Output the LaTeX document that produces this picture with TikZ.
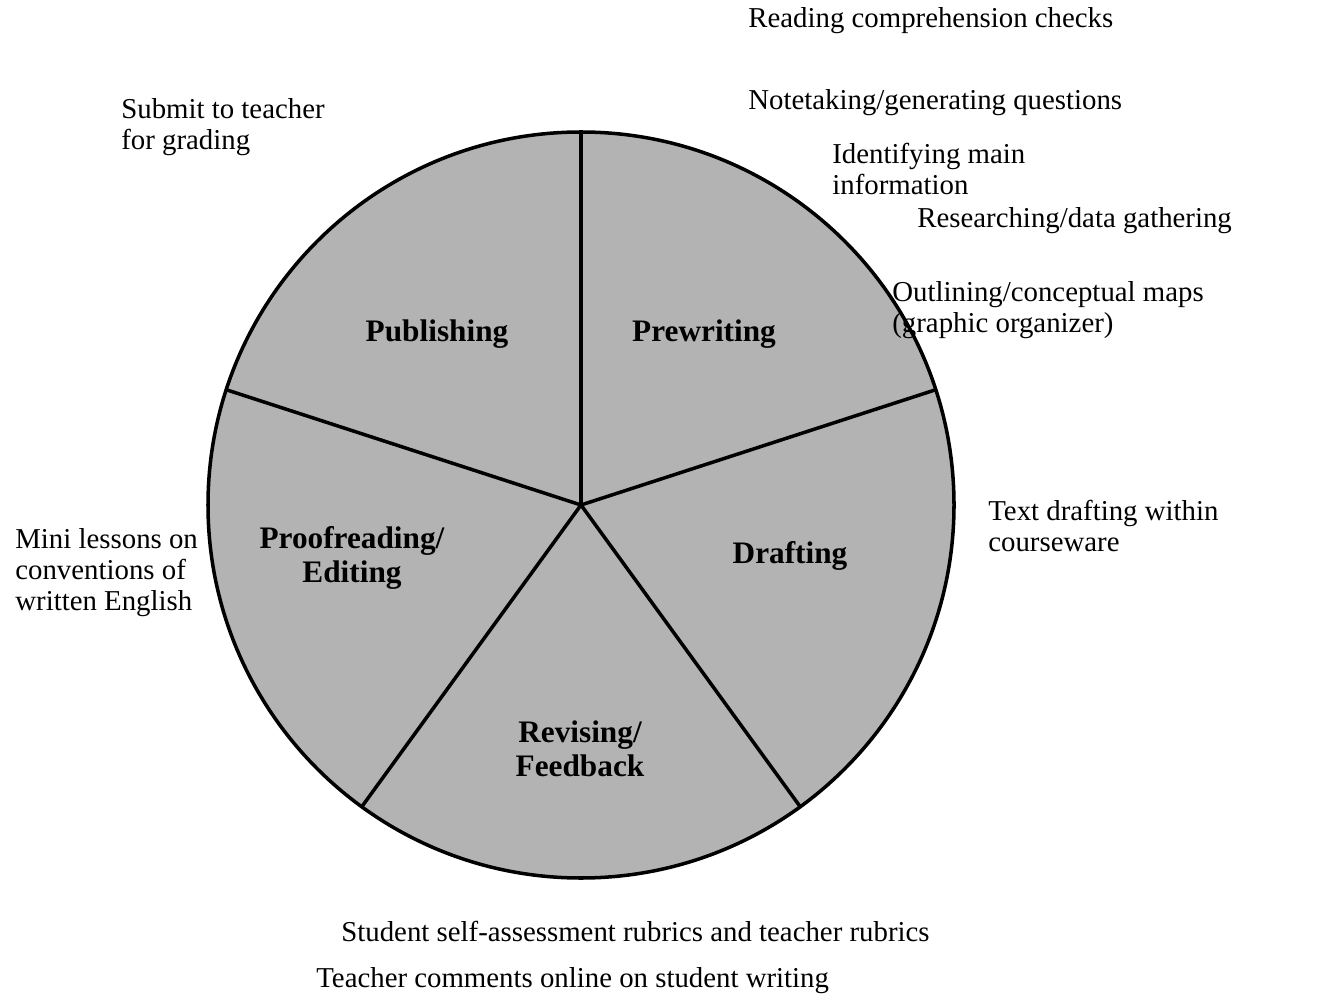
\documentclass[tikz,border=0pt]{standalone}
\usepackage{fontspec}
\setmainfont{Liberation Serif}
\usepackage{xcolor}
\definecolor{wedgegray}{RGB}{179,179,179}

\begin{document}
\begin{tikzpicture}[
	note/.style={anchor=west, inner sep=0pt, align=left, font=\fontsize{16.4}{17.6}\selectfont},
	stage/.style={inner sep=0pt, align=center, font=\fontsize{17.8}{19.5}\selectfont\bfseries},
	]
			\useasboundingbox (0,0) rectangle (26.88,20.08);
			\coordinate (c) at (11.62,9.98);
			\draw[line width=2pt, fill=wedgegray]
			(c) circle (7.46);
			\draw[line width=2pt] (c) -- ++(90:7.46);
			\draw[line width=2pt] (c) -- ++(18:7.46);
			\draw[line width=2pt] (c) -- ++(-54:7.46);
			\draw[line width=2pt] (c) -- ++(-126:7.46);
			\draw[line width=2pt] (c) -- ++(162:7.46);
			
			\node[stage] (publishing) at (8.74,13.40) {Publishing};
			\node[stage] (prewriting) at (14.08,13.40) {Prewriting};
			\node[stage] (proofreading) at (7.04,8.92) {Proofreading/\\Editing};
			\node[stage] (drafting) at (15.80,8.96) {Drafting};
			\node[stage] (revising) at (11.60,5.10) {Revising/\\Feedback};
			
			\node[note] (reading) at (14.96,19.66) {Reading comprehension checks};
			\node[note] (notetaking) at (14.96,18.02) {Notetaking/generating questions};
			\node[note] (identifying) at (16.64,16.70) {Identifying main\\information};
			\node[note] (researching) at (18.34,15.66) {Researching/data gathering};
			\node[note] (outlining) at (17.84,13.88) {Outlining/conceptual maps\\(graphic organizer)};
			\node[note] (submit) at (2.42,17.54) {Submit to teacher\\for grading};
			\node[note] (textdrafting) at (19.76,9.56) {Text drafting within\\courseware};
			\node[note] (minilessons) at (0.30,8.62) {Mini lessons on\\conventions of\\written English};
			\node[note] (rubrics) at (6.82,1.46) {Student self-assessment rubrics and teacher rubrics};
			\node[note] (comments) at (6.32,0.46) {Teacher comments online on student writing};
		
		\end{tikzpicture}
\end{document}
